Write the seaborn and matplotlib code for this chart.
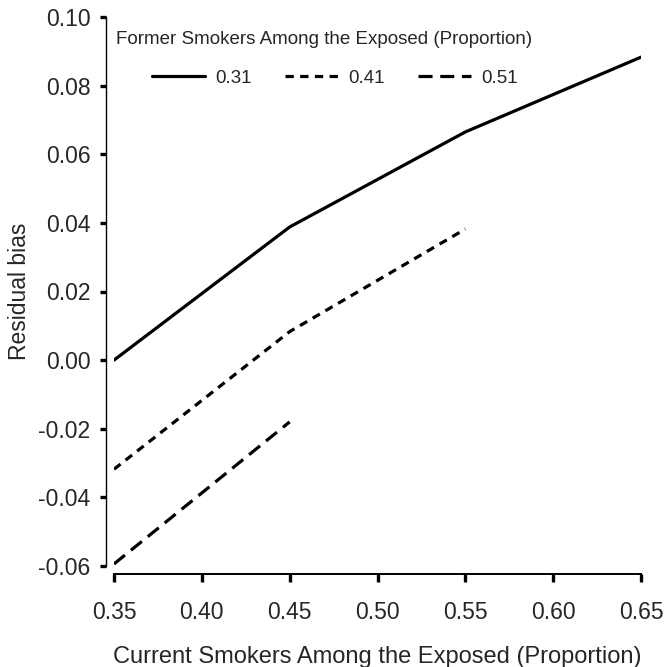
import pandas as pd
import numpy as np
import matplotlib
matplotlib.use('Agg')
import matplotlib.pyplot as plt
import seaborn as sns

# values
current = [0.35, 0.45, 0.55, 0.65]
bias_031 = [0.000, 0.0388, 0.0665, 0.0883]
current_041 = [0.35, 0.45, 0.55]
bias_041 = [-0.0318, 0.0083, 0.0382]
current_051 = [0.35, 0.45]
bias_051 = [-0.0594, -0.018]
x_ticks = [0.35, 0.40, 0.45, 0.50, 0.55, 0.60, 0.65]
y_ticks = [-0.06, -0.04, -0.02, 0.00, 0.02, 0.04, 0.06, 0.08, 0.10]

df = pd.DataFrame({
    'current': current + current_041 + current_051,
    'bias': bias_031 + bias_041 + bias_051,
    'former': ['0.31'] * 4 + ['0.41'] * 3 + ['0.51'] * 2,
})

sns.set_style('ticks')
plt.rcParams['font.family'] = ['Liberation Sans', 'DejaVu Sans']
plt.rcParams['axes.unicode_minus'] = False

W, H = 665, 667
fig = plt.figure(figsize=(W / 100, H / 100), dpi=100)
ax = fig.add_axes([114 / W, 1 - 566 / H, (641 - 114) / W, (566 - 17) / H])

sns.lineplot(data=df, x='current', y='bias', style='former', color='black',
             dashes={'0.31': '', '0.41': (2.6, 2.0), '0.51': (4.4, 2.4)},
             linewidth=2.3, ax=ax, legend=True)

ax.set_xlim(0.35, 0.65)
ax.set_ylim(-0.06, 0.10)
ax.set_xticks(x_ticks)
ax.set_yticks(y_ticks)
ax.set_xticklabels(['%.2f' % v for v in x_ticks])
ax.set_yticklabels(['%.2f' % v for v in y_ticks])

for s in ['top', 'right']:
    ax.spines[s].set_visible(False)
ax.spines['left'].set_position(('outward', 6))
ax.spines['bottom'].set_position(('outward', 6))
ax.spines['left'].set_linewidth(1.0)
ax.spines['bottom'].set_linewidth(1.4)
ax.spines['left'].set_color('black')
ax.spines['bottom'].set_color('black')
ax.tick_params(axis='x', length=6, width=2.4, labelsize=16.5, pad=13, color='black')
ax.tick_params(axis='y', length=4, width=2.4, labelsize=16.5, pad=7, color='black')

ax.set_xlabel('Current Smokers Among the Exposed (Proportion)', fontsize=17)
ax.xaxis.set_label_coords(0.5, -0.146)
ax.set_ylabel('Residual bias', fontsize=16.5)
ax.yaxis.set_label_coords(-0.157, 0.5)

fig.text(116 / W, 1 - 39 / H, 'Former Smokers Among the Exposed (Proportion)',
         fontsize=13.5, va='center', ha='left')
leg = ax.legend(ncol=3, frameon=False, loc='center left',
                bbox_to_anchor=(152 / W, 1 - 78 / H), bbox_transform=fig.transFigure,
                borderpad=0, borderaxespad=0, fontsize=13.5, handlelength=2.8,
                columnspacing=1.8, handletextpad=0.55)

fig.savefig('out.png', dpi=100)
